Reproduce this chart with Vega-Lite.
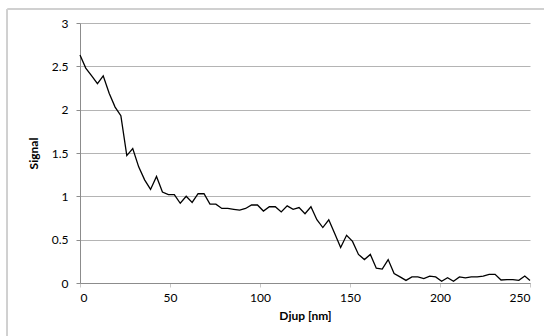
{
  "$schema": "https://vega.github.io/schema/vega-lite/v6.json",
  "autosize": "none",
  "width": 450,
  "height": 260,
  "padding": {"left": 80, "top": 23, "right": 14, "bottom": 53},
  "background": "white",
  "config": {
    "view": {"stroke": null},
    "font": "Lato",
    "axis": {
      "labelFont": "Lato",
      "titleFont": "Lato",
      "labelFontSize": 12,
      "labelColor": "#000000",
      "titleColor": "#000000",
      "titleFontSize": 12,
      "titleFontWeight": "bold"
    }
  },
  "data": {
    "values": [
      {"x": 0, "y": 2.63},
      {"x": 3.2, "y": 2.48},
      {"x": 6.5, "y": 2.39},
      {"x": 9.7, "y": 2.3},
      {"x": 12.9, "y": 2.39},
      {"x": 16.2, "y": 2.19},
      {"x": 19.5, "y": 2.03},
      {"x": 22.7, "y": 1.93},
      {"x": 26.0, "y": 1.47},
      {"x": 29.3, "y": 1.55},
      {"x": 32.6, "y": 1.34},
      {"x": 35.9, "y": 1.19},
      {"x": 39.2, "y": 1.08},
      {"x": 42.5, "y": 1.23},
      {"x": 45.8, "y": 1.05},
      {"x": 49.1, "y": 1.02},
      {"x": 52.4, "y": 1.02},
      {"x": 55.7, "y": 0.92},
      {"x": 59.0, "y": 1.0},
      {"x": 62.3, "y": 0.93},
      {"x": 65.6, "y": 1.03},
      {"x": 68.9, "y": 1.03},
      {"x": 72.2, "y": 0.91},
      {"x": 75.5, "y": 0.91},
      {"x": 78.8, "y": 0.86},
      {"x": 82.1, "y": 0.86},
      {"x": 85.4, "y": 0.85},
      {"x": 88.7, "y": 0.84},
      {"x": 92.0, "y": 0.86},
      {"x": 95.3, "y": 0.9},
      {"x": 98.6, "y": 0.9},
      {"x": 101.9, "y": 0.83},
      {"x": 105.2, "y": 0.88},
      {"x": 108.5, "y": 0.88},
      {"x": 111.8, "y": 0.82},
      {"x": 115.1, "y": 0.89},
      {"x": 118.4, "y": 0.85},
      {"x": 121.7, "y": 0.87},
      {"x": 125.0, "y": 0.8},
      {"x": 128.3, "y": 0.88},
      {"x": 131.6, "y": 0.73},
      {"x": 134.9, "y": 0.64},
      {"x": 138.2, "y": 0.73},
      {"x": 141.5, "y": 0.57},
      {"x": 144.8, "y": 0.41},
      {"x": 148.1, "y": 0.55},
      {"x": 151.4, "y": 0.48},
      {"x": 154.7, "y": 0.33},
      {"x": 158.0, "y": 0.27},
      {"x": 161.3, "y": 0.33},
      {"x": 164.6, "y": 0.17},
      {"x": 167.9, "y": 0.16},
      {"x": 171.2, "y": 0.27},
      {"x": 174.5, "y": 0.11},
      {"x": 177.8, "y": 0.07},
      {"x": 181.1, "y": 0.03},
      {"x": 184.4, "y": 0.07},
      {"x": 187.7, "y": 0.07},
      {"x": 191.0, "y": 0.05},
      {"x": 194.3, "y": 0.08},
      {"x": 197.6, "y": 0.07},
      {"x": 200.9, "y": 0.02},
      {"x": 204.2, "y": 0.06},
      {"x": 207.5, "y": 0.02},
      {"x": 210.8, "y": 0.07},
      {"x": 214.1, "y": 0.06},
      {"x": 217.4, "y": 0.07},
      {"x": 220.7, "y": 0.07},
      {"x": 224.0, "y": 0.08},
      {"x": 227.3, "y": 0.1},
      {"x": 230.6, "y": 0.1},
      {"x": 233.9, "y": 0.035},
      {"x": 237.2, "y": 0.04},
      {"x": 240.5, "y": 0.04},
      {"x": 243.8, "y": 0.03},
      {"x": 247.1, "y": 0.08},
      {"x": 250.0, "y": 0.03}
    ]
  },
  "layer": [
    {
      "mark": {"type": "rule", "color": "#d0d0d0", "strokeWidth": 1, "clip": false},
      "encoding": {
        "x": {"datum": -40.3, "type": "quantitative"},
        "y": {"datum": -0.7, "type": "quantitative"},
        "y2": {"datum": 3.157}
      }
    },
    {
      "mark": {"type": "rule", "color": "#d0d0d0", "strokeWidth": 1, "clip": false},
      "encoding": {
        "y": {"datum": 3.157, "type": "quantitative"},
        "x": {"datum": -40.3, "type": "quantitative"},
        "x2": {"datum": 265}
      }
    },
    {
      "mark": {"type": "line", "color": "#000000", "strokeWidth": 1.3, "clip": false},
      "encoding": {
        "x": {
          "field": "x",
          "type": "quantitative",
          "title": "Djup [nm]",
          "scale": {"domain": [0, 250], "nice": false, "zero": false},
          "axis": {
            "values": [0, 50, 100, 150, 200, 250],
            "format": "d",
            "grid": false,
            "domainColor": "#8c8c8c",
            "domainWidth": 1,
            "tickColor": "#c8c8c8",
            "tickSize": 4,
            "tickWidth": 1,
            "labelPadding": 5,
            "titlePadding": 7
          }
        },
        "y": {
          "field": "y",
          "type": "quantitative",
          "title": "Signal",
          "scale": {"domain": [0, 3], "nice": false},
          "axis": {
            "values": [0, 0.5, 1, 1.5, 2, 2.5, 3],
            "format": "~g",
            "grid": true,
            "gridColor": "#b4b4b4",
            "gridWidth": 1,
            "domainColor": "#8c8c8c",
            "domainWidth": 1,
            "tickColor": "#8c8c8c",
            "tickSize": 4,
            "labelPadding": 8,
            "titlePadding": 11
          }
        }
      }
    }
  ]
}
